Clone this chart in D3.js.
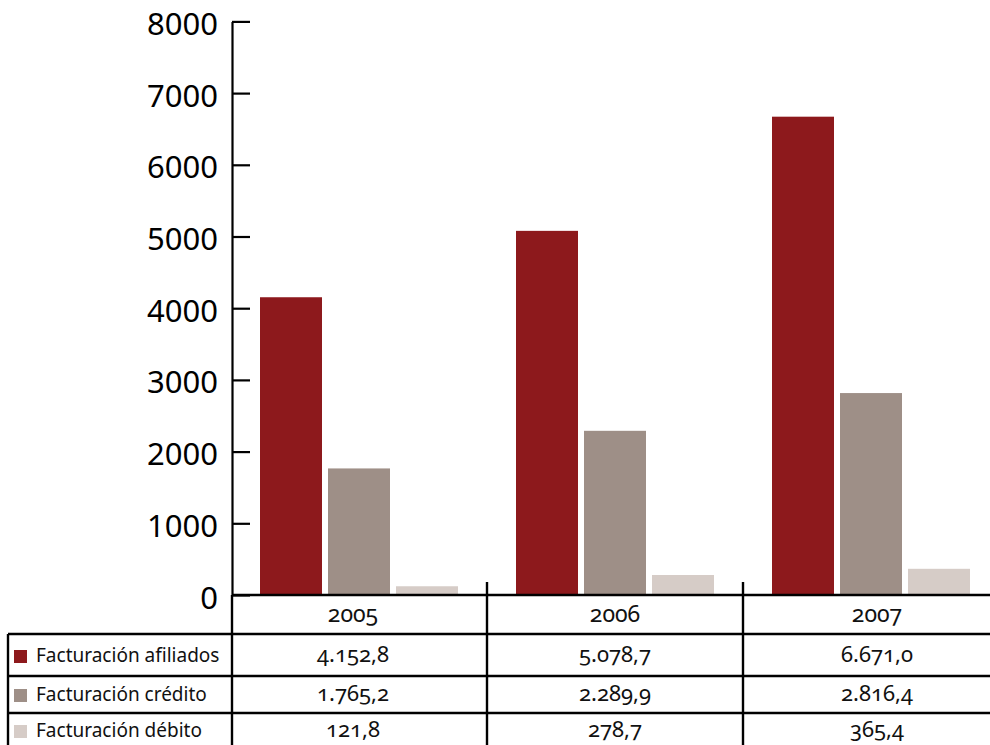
<!DOCTYPE html>
<html>
<head>
<meta charset="utf-8">
<script src="https://cdn.jsdelivr.net/npm/d3@7"></script>
<style>
  html, body { margin: 0; padding: 0; background: #fff; }
  svg { display: block; }
  .tick text { font-family: "Noto Sans", "Open Sans", sans-serif; }
  .tbl { font-family: "Noto Sans", "Open Sans", sans-serif; font-variant-numeric: oldstyle-nums; fill: #111; }
</style>
</head>
<body>
<svg id="chart" width="990" height="745"></svg>
<script>
const years = ["2005", "2006", "2007"];
const seriesNames = ["Facturación afiliados", "Facturación crédito", "Facturación débito"];
const afiliados = [4152.8, 5078.7, 6671.0];
const credito = [1765.2, 2289.9, 2816.4];
const debito = [121.8, 278.7, 365.4];
const tableLabels = [
  ["4.152,8", "5.078,7", "6.671,0"],
  ["1.765,2", "2.289,9", "2.816,4"],
  ["121,8", "278,7", "365,4"]
];
const yTicks = [0, 1000, 2000, 3000, 4000, 5000, 6000, 7000, 8000];
const colors = ["#8d191c", "#9e8f87", "#d6ccc7"];

const values = [afiliados, credito, debito];
const data = years.map((yr, i) => ({
  year: yr,
  bars: seriesNames.map((s, j) => ({ series: s, value: values[j][i] }))
}));

const svg = d3.select("#chart");
svg.append("rect").attr("width", 990).attr("height", 745).attr("fill", "#fff");

const y = d3.scaleLinear().domain([0, 8000]).range([595, 21.4]);
const x0 = d3.scaleBand().domain(years).range([232, 1000]).padding(0);
const x1 = d3.scaleBand().domain(seriesNames).range([28, 226]).paddingInner(6 / 68).paddingOuter(0);
const color = d3.scaleOrdinal().domain(seriesNames).range(colors);
const xText = d3.scalePoint().domain(years).range([353, 877]);

// bars
const groups = svg.append("g").selectAll("g").data(data).join("g")
  .attr("transform", d => `translate(${x0(d.year)},0)`);
groups.selectAll("rect").data(d => d.bars).join("rect")
  .attr("x", d => x1(d.series))
  .attr("width", x1.bandwidth())
  .attr("y", d => y(d.value))
  .attr("height", d => y(0) - y(d.value))
  .attr("fill", d => color(d.series));

// y axis
const yAxis = d3.axisLeft(y).tickValues(yTicks).tickSizeInner(-18).tickSizeOuter(0).tickPadding(14).tickFormat(d3.format("d"));
const ga = svg.append("g").attr("transform", "translate(232,0)").call(yAxis);
ga.select(".domain").attr("stroke", "#000").attr("stroke-width", 2.2);
ga.selectAll(".tick line").attr("stroke", "#000").attr("stroke-width", 2.2);
ga.selectAll(".tick text").attr("font-size", 31).attr("fill", "#000").attr("dy", "0.42em");

// table lines
const lines = svg.append("g").attr("stroke", "#000").attr("stroke-width", 2.4).attr("fill", "none");
lines.append("line").attr("x1", 232).attr("x2", 990).attr("y1", y(0)).attr("y2", y(0));
[634, 676, 713].forEach(yy => lines.append("line").attr("x1", 8).attr("x2", 990).attr("y1", yy).attr("y2", yy));
lines.append("line").attr("x1", 8).attr("x2", 8).attr("y1", 634).attr("y2", 745);
lines.append("line").attr("x1", 232).attr("x2", 232).attr("y1", y(0)).attr("y2", 745);
years.slice(1).forEach(yr => lines.append("line")
  .attr("x1", x0(yr) - 1).attr("x2", x0(yr) - 1).attr("y1", 582).attr("y2", 745));

// year labels
svg.append("g").selectAll("text").data(years).join("text")
  .attr("class", "tbl")
  .attr("x", d => xText(d)).attr("y", 622)
  .attr("text-anchor", "middle").attr("font-size", 23)
  .text(d => d);

// rows
const rowBase = [662, 701, 737];
const rows = svg.append("g").selectAll("g").data(seriesNames).join("g");
rows.append("rect")
  .attr("x", 14).attr("y", (d, i) => rowBase[i] - 12)
  .attr("width", 13).attr("height", 13)
  .attr("fill", d => color(d));
rows.append("text")
  .attr("class", "tbl")
  .attr("x", 36).attr("y", (d, i) => rowBase[i])
  .attr("font-size", 19)
  .text(d => d);
rows.each(function (s, i) {
  d3.select(this).selectAll("text.val").data(tableLabels[i]).join("text")
    .attr("class", "tbl val")
    .attr("x", (d, k) => xText(years[k])).attr("y", rowBase[i])
    .attr("text-anchor", "middle").attr("font-size", 22)
    .text(d => d);
});
</script>
</body>
</html>
